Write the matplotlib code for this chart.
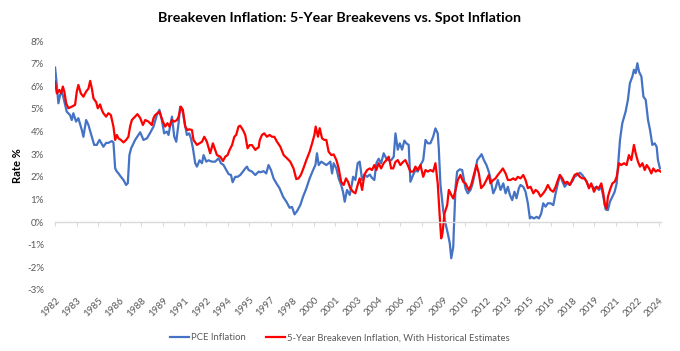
import matplotlib
matplotlib.use("Agg")
import matplotlib.pyplot as plt

plt.rcParams['font.family'] = ['Lato', 'DejaVu Sans']

# PCE inflation (%), decimal years
pce_years = [
    1982.00, 1982.12, 1982.23, 1982.35, 1982.47, 1982.58, 1982.70, 1982.81, 1983.04, 1983.16,
    1983.27, 1983.46, 1983.62, 1983.86, 1983.97, 1984.16, 1984.32, 1984.56, 1984.72, 1984.90,
    1985.09, 1985.25, 1985.36, 1985.55, 1985.71, 1985.95, 1986.06, 1986.18, 1986.30, 1986.41,
    1986.58, 1986.76, 1986.94, 1987.06, 1987.17, 1987.29, 1987.57, 1987.80, 1987.92, 1988.15,
    1988.39, 1988.62, 1988.85, 1989.08, 1989.26, 1989.43, 1989.59, 1989.78, 1989.89, 1990.13,
    1990.29, 1990.43, 1990.59, 1990.70, 1990.87, 1991.00, 1991.17, 1991.33, 1991.45, 1991.59,
    1991.75, 1991.87, 1992.05, 1992.22, 1992.33, 1992.52, 1992.68, 1992.91, 1993.14, 1993.37,
    1993.54, 1993.72, 1993.91, 1994.07, 1994.24, 1994.35, 1994.53, 1994.70, 1994.88, 1995.07,
    1995.23, 1995.35, 1995.46, 1995.70, 1995.93, 1996.16, 1996.28, 1996.51, 1996.69, 1996.85,
    1997.02, 1997.20, 1997.39, 1997.62, 1997.86, 1998.09, 1998.32, 1998.48, 1998.66, 1998.83,
    1999.06, 1999.25, 1999.48, 1999.71, 1999.95, 2000.11, 2000.22, 2000.34, 2000.52, 2000.68,
    2000.87, 2001.03, 2001.15, 2001.27, 2001.38, 2001.57, 2001.73, 2001.90, 2002.03, 2002.15,
    2002.31, 2002.50, 2002.66, 2002.73, 2002.89, 2003.05, 2003.19, 2003.36, 2003.52, 2003.71,
    2003.89, 2004.05, 2004.21, 2004.35, 2004.51, 2004.68, 2004.86, 2005.05, 2005.21, 2005.38,
    2005.56, 2005.68, 2005.84, 2005.98, 2006.14, 2006.30, 2006.44, 2006.60, 2006.72, 2006.91,
    2007.07, 2007.23, 2007.42, 2007.61, 2007.77, 2007.93, 2008.11, 2008.30, 2008.46, 2008.62,
    2008.69, 2008.81, 2009.00, 2009.16, 2009.32, 2009.46, 2009.56, 2009.70, 2009.74, 2009.86,
    2009.97, 2010.15, 2010.32, 2010.43, 2010.55, 2010.71, 2010.90, 2011.02, 2011.18, 2011.37,
    2011.55, 2011.67, 2011.83, 2012.01, 2012.17, 2012.29, 2012.48, 2012.64, 2012.80, 2012.99,
    2013.18, 2013.34, 2013.50, 2013.64, 2013.80, 2013.96, 2014.10, 2014.26, 2014.38, 2014.57,
    2014.73, 2014.89, 2015.03, 2015.13, 2015.31, 2015.50, 2015.66, 2015.82, 2015.96, 2016.12,
    2016.28, 2016.47, 2016.66, 2016.82, 2016.98, 2017.12, 2017.29, 2017.45, 2017.63, 2017.81,
    2017.98, 2018.14, 2018.33, 2018.51, 2018.68, 2018.84, 2018.98, 2019.14, 2019.30, 2019.49,
    2019.67, 2019.83, 2020.00, 2020.14, 2020.30, 2020.46, 2020.60, 2020.77, 2020.93, 2021.07,
    2021.18, 2021.30, 2021.46, 2021.69, 2021.85, 2021.99, 2022.16, 2022.27, 2022.39, 2022.51,
    2022.62, 2022.79, 2022.93, 2023.09, 2023.25, 2023.39, 2023.55, 2023.71, 2023.85, 2023.94,
    2024.08,
]
pce_values = [
    6.83, 6.06, 5.25, 5.62, 5.77, 5.50, 5.18, 4.88, 4.73, 4.51,
    4.81, 4.44, 4.59, 4.07, 3.77, 4.51, 4.29, 3.77, 3.41, 3.41,
    3.63, 3.45, 3.33, 3.50, 3.50, 3.58, 3.52, 2.37, 2.23, 2.15,
    2.00, 1.86, 1.64, 1.72, 2.96, 3.26, 3.63, 3.85, 3.97, 3.63,
    3.70, 3.95, 4.22, 4.73, 4.96, 4.50, 3.92, 4.00, 3.85, 4.66,
    3.77, 3.55, 4.37, 5.10, 4.90, 4.44, 3.85, 3.92, 3.70, 3.26,
    2.60, 2.45, 2.73, 2.60, 2.96, 2.67, 2.73, 2.67, 2.67, 2.82,
    2.60, 2.52, 2.30, 2.12, 2.08, 1.76, 2.00, 2.00, 2.08, 2.23,
    2.37, 2.45, 2.30, 2.23, 2.08, 2.23, 2.20, 2.25, 2.15, 2.52,
    2.30, 1.93, 1.72, 1.49, 1.12, 0.90, 0.63, 0.67, 0.34, 0.48,
    0.75, 1.12, 1.49, 1.93, 2.30, 2.52, 3.04, 2.52, 2.67, 2.60,
    2.52, 2.60, 2.67, 2.15, 2.60, 2.37, 1.93, 1.64, 1.34, 0.90,
    1.42, 1.20, 1.71, 2.00, 1.86, 2.60, 2.67, 1.86, 2.10, 2.00,
    2.10, 1.95, 1.86, 2.60, 2.80, 2.60, 3.04, 2.80, 2.73, 2.73,
    2.89, 3.92, 3.20, 3.48, 3.20, 3.60, 3.48, 3.41, 1.78, 2.08,
    2.30, 2.23, 2.52, 2.74, 3.63, 3.48, 3.48, 3.77, 4.14, 3.92,
    3.30, 1.64, 0.53, -0.06, -0.50, -0.94, -1.60, -1.10, -0.35, 1.56,
    2.23, 2.33, 2.30, 1.93, 1.49, 1.27, 1.42, 1.64, 2.08, 2.74,
    2.89, 3.00, 2.74, 2.52, 2.23, 1.93, 1.27, 1.49, 1.86, 1.42,
    1.71, 1.27, 1.56, 1.20, 0.97, 1.34, 1.05, 1.49, 1.64, 1.56,
    1.34, 0.83, 0.16, 0.23, 0.16, 0.23, 0.16, 0.38, 0.83, 0.68,
    0.83, 0.83, 0.75, 1.27, 1.71, 2.08, 1.80, 1.56, 1.71, 1.64,
    1.80, 2.00, 2.08, 2.18, 2.08, 1.93, 1.78, 1.56, 1.64, 1.49,
    1.56, 1.42, 1.56, 1.12, 0.56, 0.53, 0.90, 1.12, 1.34, 1.71,
    2.60, 3.63, 4.37, 4.88, 5.40, 6.14, 6.43, 6.73, 6.58, 7.02,
    6.65, 6.43, 5.54, 5.40, 4.51, 4.07, 3.41, 3.48, 3.33, 2.74,
    2.37,
]

# 5-year breakeven inflation with historical estimates (%)
bei_years = [
    1982.00, 1982.12, 1982.30, 1982.42, 1982.54, 1982.65, 1982.77, 1982.93, 1983.16, 1983.39,
    1983.51, 1983.62, 1983.79, 1983.97, 1984.16, 1984.32, 1984.44, 1984.56, 1984.67, 1984.86,
    1984.97, 1985.13, 1985.25, 1985.36, 1985.55, 1985.71, 1985.88, 1986.06, 1986.18, 1986.30,
    1986.41, 1986.58, 1986.76, 1986.94, 1987.10, 1987.22, 1987.34, 1987.57, 1987.73, 1987.92,
    1988.11, 1988.27, 1988.50, 1988.73, 1988.85, 1988.96, 1989.12, 1989.26, 1989.50, 1989.66,
    1989.82, 1989.96, 1990.13, 1990.29, 1990.48, 1990.59, 1990.75, 1990.89, 1991.05, 1991.21,
    1991.35, 1991.52, 1991.63, 1991.87, 1992.05, 1992.22, 1992.38, 1992.56, 1992.79, 1992.98,
    1993.14, 1993.26, 1993.49, 1993.68, 1993.84, 1994.00, 1994.14, 1994.31, 1994.47, 1994.60,
    1994.76, 1994.88, 1995.07, 1995.23, 1995.39, 1995.53, 1995.70, 1995.93, 1996.05, 1996.16,
    1996.23, 1996.39, 1996.55, 1996.74, 1996.92, 1997.09, 1997.25, 1997.44, 1997.67, 1997.90,
    1998.13, 1998.36, 1998.59, 1998.78, 1998.94, 1999.11, 1999.29, 1999.48, 1999.71, 1999.88,
    2000.04, 2000.13, 2000.29, 2000.41, 2000.57, 2000.73, 2000.87, 2001.03, 2001.22, 2001.38,
    2001.57, 2001.73, 2001.90, 2002.08, 2002.24, 2002.38, 2002.54, 2002.73, 2002.89, 2003.05,
    2003.19, 2003.36, 2003.52, 2003.71, 2003.89, 2004.05, 2004.21, 2004.35, 2004.51, 2004.68,
    2004.86, 2005.05, 2005.21, 2005.38, 2005.52, 2005.68, 2005.84, 2006.02, 2006.21, 2006.37,
    2006.53, 2006.72, 2006.91, 2007.07, 2007.23, 2007.42, 2007.61, 2007.77, 2007.93, 2008.11,
    2008.30, 2008.46, 2008.62, 2008.76, 2008.86, 2008.95, 2009.09, 2009.28, 2009.39, 2009.56,
    2009.70, 2009.86, 2010.02, 2010.20, 2010.39, 2010.55, 2010.78, 2010.95, 2011.13, 2011.32,
    2011.48, 2011.64, 2011.83, 2012.01, 2012.17, 2012.29, 2012.48, 2012.64, 2012.80, 2012.99,
    2013.15, 2013.34, 2013.50, 2013.69, 2013.87, 2014.03, 2014.19, 2014.38, 2014.57, 2014.73,
    2014.89, 2015.08, 2015.27, 2015.43, 2015.59, 2015.77, 2015.96, 2016.12, 2016.28, 2016.47,
    2016.66, 2016.82, 2016.98, 2017.12, 2017.29, 2017.45, 2017.63, 2017.81, 2017.98, 2018.14,
    2018.33, 2018.51, 2018.68, 2018.84, 2018.98, 2019.14, 2019.30, 2019.49, 2019.67, 2019.83,
    2020.00, 2020.14, 2020.25, 2020.37, 2020.46, 2020.60, 2020.77, 2020.93, 2021.07, 2021.23,
    2021.39, 2021.58, 2021.76, 2021.92, 2022.09, 2022.27, 2022.39, 2022.55, 2022.69, 2022.86,
    2023.02, 2023.16, 2023.32, 2023.48, 2023.62, 2023.78, 2023.94, 2024.13,
]
bei_values = [
    6.21, 5.69, 5.84, 5.69, 5.99, 5.75, 5.25, 5.03, 5.10, 5.18,
    5.77, 6.06, 5.69, 5.54, 5.77, 5.90, 6.24, 5.90, 5.47, 5.30,
    5.03, 5.20, 4.96, 4.81, 4.66, 4.81, 4.73, 4.22, 3.63, 3.85,
    3.70, 3.63, 3.52, 3.63, 3.77, 4.22, 4.51, 4.66, 4.77, 4.60,
    4.29, 4.51, 4.44, 4.29, 4.60, 4.73, 4.81, 4.88, 4.44, 4.22,
    4.37, 4.22, 4.51, 4.44, 4.51, 4.66, 5.10, 4.96, 4.22, 4.07,
    4.10, 4.07, 3.63, 3.41, 3.48, 3.55, 3.77, 3.55, 3.04, 3.48,
    3.19, 2.96, 2.89, 2.70, 2.89, 2.96, 3.19, 3.40, 3.77, 3.85,
    4.22, 4.26, 4.07, 3.85, 3.26, 3.40, 3.40, 3.19, 3.26, 3.30,
    3.60, 3.85, 3.92, 3.77, 3.85, 3.77, 3.77, 3.55, 3.33, 2.96,
    2.82, 2.67, 2.37, 1.90, 1.93, 2.10, 2.40, 2.74, 3.11, 3.48,
    3.85, 4.22, 3.77, 4.15, 3.70, 3.63, 3.63, 3.11, 2.96, 2.99,
    2.74, 2.37, 1.78, 1.64, 1.93, 1.78, 1.49, 1.34, 1.27, 1.64,
    1.93, 1.42, 2.10, 2.30, 2.37, 2.30, 2.52, 2.30, 2.60, 2.37,
    2.60, 2.74, 2.89, 2.37, 2.37, 2.66, 2.74, 2.52, 2.66, 2.74,
    2.52, 2.23, 2.23, 2.45, 2.30, 2.52, 2.00, 2.30, 2.23, 2.30,
    2.23, 2.60, 1.71, 0.24, -0.72, -0.50, 0.38, 0.75, 1.42, 1.20,
    1.04, 1.42, 1.86, 2.08, 1.78, 1.71, 1.42, 1.64, 2.08, 2.52,
    2.15, 1.50, 1.64, 1.86, 2.08, 1.71, 1.86, 1.93, 2.08, 2.23,
    2.37, 2.15, 1.86, 1.86, 1.93, 1.86, 2.00, 1.93, 2.08, 1.86,
    1.50, 1.56, 1.27, 1.42, 1.34, 1.13, 1.27, 1.42, 1.64, 1.42,
    1.34, 1.56, 1.86, 2.08, 1.93, 1.71, 1.78, 1.64, 1.86, 2.08,
    2.15, 2.00, 1.93, 1.93, 1.78, 1.49, 1.71, 1.34, 1.56, 1.49,
    1.71, 1.27, 0.75, 0.60, 1.12, 1.42, 1.71, 1.78, 2.00, 2.60,
    2.52, 2.60, 2.52, 2.96, 2.74, 3.41, 3.04, 2.67, 2.45, 2.60,
    2.30, 2.52, 2.37, 2.15, 2.37, 2.23, 2.30, 2.23,
]

tick_years = [1982 + 1.5 * i for i in range(29)]
tick_labels = ['1982', '1983', '1985', '1986', '1988', '1989', '1991', '1992', '1994', '1995',
               '1997', '1998', '2000', '2001', '2003', '2004', '2006', '2007', '2009', '2010',
               '2012', '2013', '2015', '2016', '2018', '2019', '2021', '2022', '2024']
y_ticks = [-3, -2, -1, 0, 1, 2, 3, 4, 5, 6, 7, 8]

gray = '#595959'

fig = plt.figure(figsize=(6.8, 3.51), dpi=100)
ax = fig.add_axes([0.081, 0.174, 0.891, 0.709])

ax.plot(pce_years, pce_values, color='#4472C4', lw=1.6, label='PCE Inflation')
ax.plot(bei_years, bei_values, color='#FF0000', lw=1.6,
        label='5-Year Breakeven Inflation, With Historical Estimates')

ax.set_xlim(1982, 2024.15)
ax.set_ylim(-3, 8)
ax.set_yticks(y_ticks)
ax.set_yticklabels([f'{v}%' for v in y_ticks])
ax.tick_params(axis='y', length=0, labelsize=7, labelcolor=gray, pad=8)

for s in ['top', 'right', 'left']:
    ax.spines[s].set_visible(False)
ax.spines['bottom'].set_position(('data', 0))
ax.spines['bottom'].set_color('#d9d9d9')
ax.spines['bottom'].set_linewidth(1.0)
ax.set_xticks(tick_years)
ax.tick_params(axis='x', length=3, color='#d9d9d9', labelbottom=False)

sec = ax.secondary_xaxis(0.0)
sec.set_xticks(tick_years)
sec.set_xticklabels(tick_labels, rotation=45, ha='right', rotation_mode='anchor')
sec.tick_params(length=0, labelsize=7, labelcolor=gray, pad=4)
sec.spines['bottom'].set_visible(False)

ax.set_ylabel('Rate %', fontsize=8, fontweight='bold', color='black')
ax.yaxis.set_label_coords(-0.053, 0.5)

fig.suptitle('Breakeven Inflation: 5-Year Breakevens vs. Spot Inflation',
             fontsize=10.3, fontweight='bold', x=0.5, y=0.965)

fig.legend(loc='lower center', bbox_to_anchor=(0.5, 0.0), ncol=2, frameon=False,
           fontsize=6.8, labelcolor=gray, handlelength=2.0, columnspacing=2.2,
           handletextpad=0.2)

fig.savefig('out.png', dpi=100)
